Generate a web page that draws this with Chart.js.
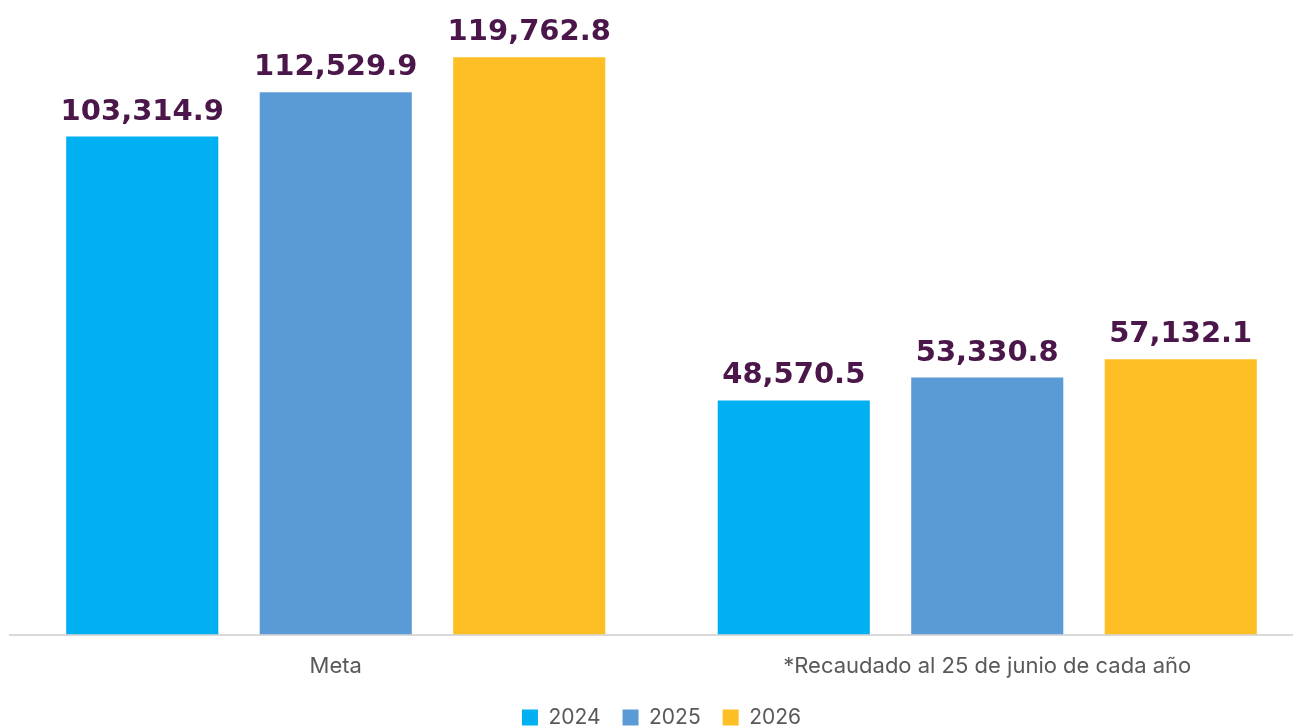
<!DOCTYPE html>
<html>
<head>
<meta charset="utf-8">
<script src="https://cdn.jsdelivr.net/npm/chart.js@4"></script>
<style>
  html, body { margin: 0; padding: 0; background: #fff; overflow: hidden; }
  #wrap { width: 1293px; height: 727px; overflow: hidden; }
  #graph { display: block; }
</style>
</head>
<body>
<div id="wrap"><canvas id="graph" width="1313" height="738"></canvas></div>
<script>
// Chart data
var categories = ['Meta', '*Recaudado al 25 de junio de cada año'];
var years = ['2024', '2025', '2026'];
var values2024 = [103314.9, 48570.5];
var values2025 = [112529.9, 53330.8];
var values2026 = [119762.8, 57132.1];
var barColors = ['#00B0F0', '#5B9BD5', '#FDBF24'];

// draws value labels above each bar
var valueLabels = {
    id: 'valueLabels',
    afterDatasetsDraw: function (chart) {
        var ctx = chart.ctx;
        ctx.save();
        ctx.font = 'bold 29px "DejaVu Sans"';
        ctx.fillStyle = '#4B1649';
        ctx.textAlign = 'center';
        ctx.textBaseline = 'alphabetic';
        chart.data.datasets.forEach(function (ds, i) {
            chart.getDatasetMeta(i).data.forEach(function (bar, j) {
                var txt = ds.data[j].toLocaleString('en-US', { minimumFractionDigits: 1, maximumFractionDigits: 1 });
                ctx.fillText(txt, bar.x, bar.y - 17);
            });
        });
        ctx.restore();
    }
};

var canvas = document.getElementById('graph');

var chart = new Chart(canvas, {
    type: 'bar',
    data: {
        labels: categories,
        datasets: [
            { label: years[0], data: values2024, backgroundColor: barColors[0] },
            { label: years[1], data: values2025, backgroundColor: barColors[1] },
            { label: years[2], data: values2026, backgroundColor: barColors[2] }
        ]
    },
    options: {
        responsive: false,
        animation: false,
        categoryPercentage: 0.891,
        barPercentage: 0.786,
        layout: { padding: { left: 10, right: 0, top: 8, bottom: 0 } },
        plugins: {
            legend: {
                position: 'bottom',
                labels: {
                    boxWidth: 16,
                    boxHeight: 16,
                    padding: 22,
                    color: '#595959',
                    font: { family: 'Inter', size: 21 }
                }
            },
            tooltip: { enabled: false }
        },
        scales: {
            x: {
                grid: { display: false },
                border: { display: true, color: '#D9D9D9', width: 2 },
                ticks: {
                    color: '#595959',
                    padding: 11,
                    font: { family: 'Inter', size: 22 }
                },
                afterFit: function (scale) { scale.height -= 6; }
            },
            y: {
                display: false,
                min: 0,
                max: 130000
            }
        }
    },
    plugins: [valueLabels]
});
</script>
</body>
</html>
